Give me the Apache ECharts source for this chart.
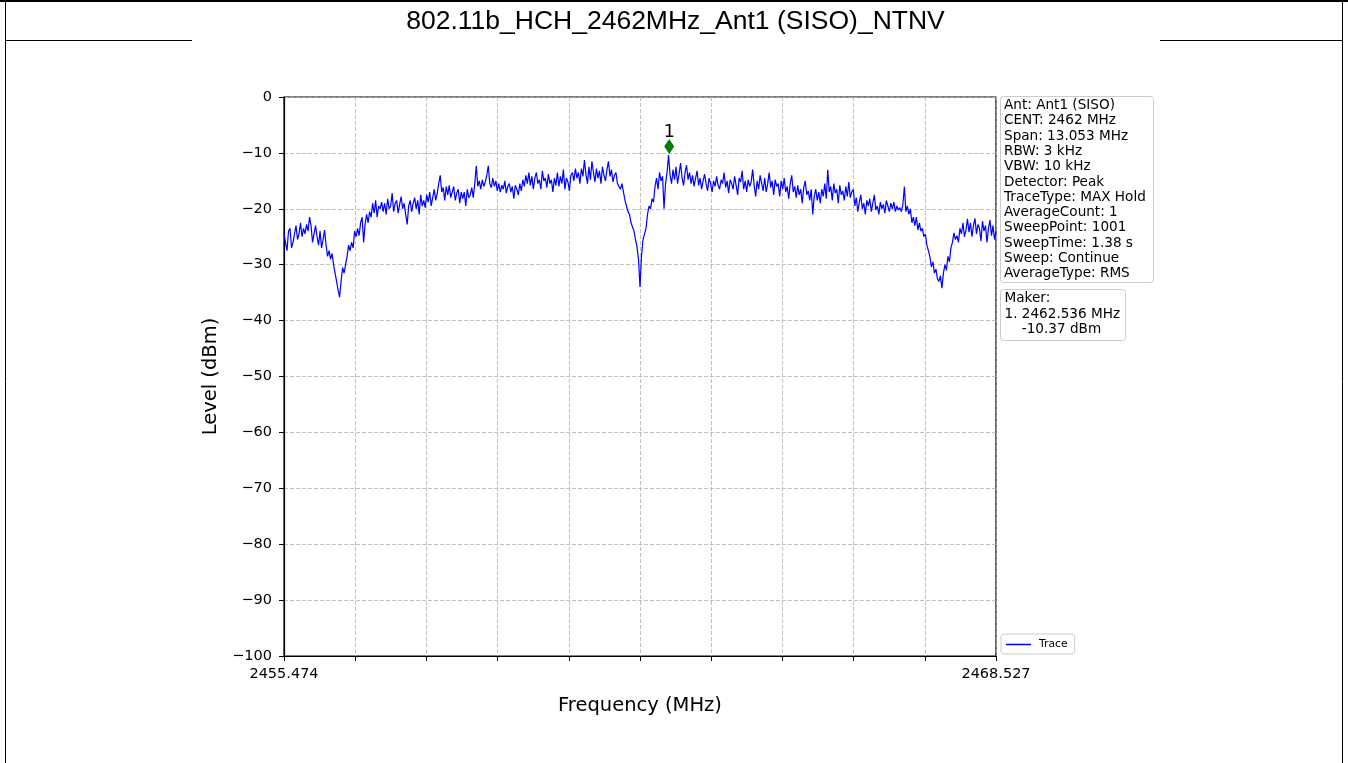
<!DOCTYPE html>
<html><head><meta charset="utf-8">
<script src="https://cdn.jsdelivr.net/npm/echarts@6/dist/echarts.min.js"></script>
<style>html,body{margin:0;padding:0;background:#fff}#c{width:1348px;height:763px}</style>
</head><body><div id="c"></div>
<script>
const titleText = '802.11b_HCH_2462MHz_Ant1 (SISO)_NTNV';
const startFreq = 2455.474;
const stopFreq = 2468.527;
const levels = [
-24.5,-26,-27.5,-24,-23.5,-27,-26,-24.5,-23,-25.5,
-24.5,-22.5,-25,-23.5,-24.5,-22.8,-24,-21.5,-23,-26,
-24.5,-23,-25,-26.5,-24,-27,-25.5,-23.8,-26.5,-28.5,
-27.5,-29,-28,-30,-31.5,-33,-34.5,-35.8,-33,-30.5,
-31.5,-30,-28.5,-26.5,-27.5,-26,-27,-24,-25,-23.5,
-24.8,-22.5,-21.5,-26,-22.7,-21,-22.5,-20.5,-21.5,-19,
-20.8,-18.5,-21.5,-19.5,-20,-18.8,-20.5,-19,-21,-18.2,
-20,-19.5,-17.2,-20.5,-19,-18.5,-20.8,-19.2,-17.8,-20,
-19,-21,-22.8,-19.5,-18.5,-20.5,-19,-18,-20,-18.5,
-21,-17.5,-19.5,-18.5,-19.8,-17.5,-18.8,-17,-19.5,-18,
-16.5,-18.5,-17.2,-15.5,-14,-17,-16.2,-18.5,-16,-17.5,
-15.8,-18,-17,-16,-18.5,-17.2,-16.5,-19,-17,-18.2,
-17,-19.5,-16.5,-18,-17.5,-16.2,-18,-15.5,-12.3,-16,
-15,-16.5,-14.8,-16,-15.2,-14,-12.3,-15.5,-16.2,-14.5,
-16,-15,-16.8,-15.5,-17,-15.8,-16.5,-15,-17.2,-16,
-15.5,-17,-16,-18.2,-15.8,-16.5,-17.5,-15.5,-16.8,-14.8,
-16,-14,-15.5,-13.5,-15.8,-14.2,-16.5,-14.5,-13.5,-15.5,
-14.8,-16.5,-13.2,-15,-14.5,-16.2,-13.8,-15.5,-14.8,-17,
-14.5,-15.8,-13.5,-16,-14.2,-15.5,-13,-16.5,-14.5,-15.2,
-16.8,-14,-13.5,-15,-12.8,-14.5,-13.5,-15.5,-12.8,-14.2,
-11.3,-13.8,-15.5,-12.5,-14.8,-11.5,-13.5,-15.2,-12.8,-14.5,
-13.2,-15.5,-12.5,-14,-15,-13,-11.5,-14.2,-13,-15.2,
-14,-13.5,-15.5,-15.8,-16.5,-15.5,-17,-18.5,-19.5,-20.5,
-21,-22.5,-22.8,-24,-25.5,-26.8,-29,-34,-28.5,-25.5,
-24.5,-23.5,-21,-19.5,-20,-18.2,-18.8,-16,-14.5,-16.5,
-13.5,-15,-14.2,-20,-15.5,-13.5,-10.37,-14,-15.5,-13,
-14.8,-12.5,-15.5,-13.8,-11.8,-14.5,-15.8,-13.5,-12.2,-14.8,
-13.5,-15.5,-14,-16,-14.5,-13.2,-15.8,-14.5,-16.5,-15,
-13.8,-15.5,-16.8,-14.5,-15.5,-17,-15,-16,-14.2,-15.8,
-16.5,-14.8,-15.5,-13.5,-16.2,-15,-17.2,-14.8,-15.5,-16.5,
-14.2,-15.8,-17.5,-14.5,-15.2,-13.2,-16.5,-15,-17,-14.8,
-16,-15.2,-13,-15.8,-17.8,-15,-16.5,-14,-15.5,-16.8,
-14.5,-17,-15.5,-13.5,-16.2,-15,-17.5,-14.8,-16,-15.5,
-17.8,-15,-16.5,-14.5,-17,-16,-18.2,-15.5,-14,-17,
-16,-18,-15.8,-17.5,-16.5,-19,-16.2,-15,-17.5,-16.8,
-18.5,-16.5,-21,-17.8,-16.5,-18.5,-17,-19,-16.5,-17.8,
-15.5,-18.2,-13,-17,-16,-18.5,-15.5,-17.2,-16.5,-19,
-15.8,-17.5,-16.8,-18.5,-16,-17.8,-15.2,-18,-17,-16.5,
-19.5,-18,-20.5,-18.8,-17.5,-20,-19,-21,-18.5,-19.5,
-18.2,-20.5,-19,-17.5,-20.2,-19.5,-21,-18.8,-20,-19.2,
-20.8,-18.5,-19.5,-20.5,-19,-20,-18.8,-20.5,-19.5,-20.2,
-19.8,-20.5,-19.2,-16,-20.5,-19.5,-21,-20,-22.5,-21.5,
-23,-21.5,-23.8,-22.5,-24,-23.5,-25,-24.5,-26.5,-27.5,
-28.6,-30.4,-29.5,-31.5,-30.8,-32.5,-33,-32,-34.2,-31.5,
-30,-31,-28.5,-29.5,-27,-26,-24.3,-25.5,-24.8,-26,
-23.5,-24.5,-22.5,-25,-23.8,-21.8,-24.2,-22.5,-25,-23,
-21.7,-24.5,-22.8,-23.5,-25.8,-22.2,-24,-23,-26,-23.5,
-22,-24.8,-23,-25.5,-24
];
const markerFreq = [2462.536];
const markerLevel = [-8.87];
const markerNames = ['1'];
const xTickLabels = ['2455.474','','','','','','','','','','2468.527'];
const yMin = -100, yMax = 0, yStep = 10;
const infoLines = ['Ant: Ant1 (SISO)','CENT: 2462 MHz','Span: 13.053 MHz','RBW: 3 kHz','VBW: 10 kHz','Detector: Peak','TraceType: MAX Hold','AverageCount: 1','SweepPoint: 1001','SweepTime: 1.38 s','Sweep: Continue','AverageType: RMS'];
const makerLines = ['Maker:','1. 2462.536 MHz','    -10.37 dBm'];

const FONT = 'DejaVu Sans';
const n = levels.length;
const traceData = levels.map((v, i) => [startFreq + i * (stopFreq - startFreq) / (n - 1), v]);
const markerData = markerFreq.map((f, i) => ({value: [f, markerLevel[i]], name: markerNames[i]}));

const graphic = [];
graphic.push({type:'line', shape:{x1:0,y1:1,x2:1348,y2:1}, style:{stroke:'#000',lineWidth:2}});
graphic.push({type:'line', shape:{x1:5.5,y1:0,x2:5.5,y2:763}, style:{stroke:'#000',lineWidth:1}});
graphic.push({type:'line', shape:{x1:1342.5,y1:0,x2:1342.5,y2:763}, style:{stroke:'#000',lineWidth:1}});
graphic.push({type:'line', shape:{x1:5,y1:40.5,x2:192,y2:40.5}, style:{stroke:'#000',lineWidth:1}});
graphic.push({type:'line', shape:{x1:1160,y1:40.5,x2:1343,y2:40.5}, style:{stroke:'#000',lineWidth:1}});
graphic.push({type:'text', x:675.5, y:22, style:{text:titleText, font:'26.5px "Liberation Sans"', fill:'#000', textAlign:'center', textVerticalAlign:'middle'}});
graphic.push({type:'rect', shape:{x:1000.5,y:96.5,width:153,height:186,r:3}, style:{fill:'#fff',stroke:'#cccccc',lineWidth:1}, z:10});
infoLines.forEach((t, i) => graphic.push({type:'text', x:1004, y:105.5 + 15.3 * i, z:11, style:{text:t, font:'13.6px "DejaVu Sans"', fill:'#000', textVerticalAlign:'middle'}}));
graphic.push({type:'rect', shape:{x:1000.5,y:289.5,width:125,height:51,r:3}, style:{fill:'#fff',stroke:'#cccccc',lineWidth:1}, z:10});
makerLines.forEach((t, i) => graphic.push({type:'text', x:1004.5, y:298.8 + 15.2 * i, z:11, style:{text:t, font:'13.6px "DejaVu Sans"', fill:'#000', textVerticalAlign:'middle'}}));

const chart = echarts.init(document.getElementById('c'));
chart.setOption({
  animation: false,
  backgroundColor: '#fff',
  graphic: graphic,
  grid: {left: 284, right: 352, top: 97, bottom: 107, show: true, borderColor: '#000', borderWidth: 1.2, containLabel: false},
  legend: {
    data: ['Trace'], left: 1001, top: 634, orient: 'vertical',
    icon: 'rect', itemWidth: 25, itemHeight: 1.5,
    padding: [5, 7, 4, 5], borderColor: '#cccccc', borderWidth: 1, borderRadius: 3, backgroundColor: '#fff',
    textStyle: {fontFamily: FONT, fontSize: 10.8, color: '#000', padding: [0, 0, 0, 3]}
  },
  xAxis: [
    {type: 'value', min: startFreq, max: stopFreq, show: false},
    {type: 'value', min: 0, max: 10, interval: 1, position: 'bottom',
     axisLine: {show: true, lineStyle: {color: '#000', width: 1.2}},
     axisTick: {show: true, length: 5, lineStyle: {color: '#000'}},
     axisLabel: {show: true, margin: 11, fontFamily: FONT, fontSize: 14.5, color: '#000',
       formatter: v => xTickLabels[Math.round(v)] || ''},
     splitLine: {show: true, lineStyle: {color: '#b0b0b0', type: [4, 2], width: 0.8}},
     name: 'Frequency (MHz)', nameLocation: 'middle', nameGap: 40,
     nameTextStyle: {fontFamily: FONT, fontSize: 19.5, color: '#000'}}
  ],
  yAxis: {
    type: 'value', min: yMin, max: yMax, interval: yStep,
    axisLine: {show: true, lineStyle: {color: '#000', width: 1.2}},
    axisTick: {show: true, length: 5, lineStyle: {color: '#000'}},
    axisLabel: {margin: 12, fontFamily: FONT, fontSize: 14.5, color: '#000',
      formatter: v => v < 0 ? '\u2212' + (-v) : String(v)},
    splitLine: {show: true, lineStyle: {color: '#b0b0b0', type: [4, 2], width: 0.8}},
    name: 'Level (dBm)', nameLocation: 'middle', nameGap: 57, nameRotate: 90,
    nameTextStyle: {fontFamily: FONT, fontSize: 19.5, color: '#000'}
  },
  series: [
    {name: 'Trace', type: 'line', xAxisIndex: 0, data: traceData, symbol: 'none', color: '#0000ff',
     lineStyle: {color: '#0000ff', width: 1.2}, z: 3},
    {name: 'Marker', type: 'scatter', xAxisIndex: 0, data: markerData, symbol: 'diamond', symbolSize: [10, 15],
     itemStyle: {color: '#008000', opacity: 1}, z: 4,
     label: {show: true, position: 'top', distance: -2, formatter: p => p.name, fontFamily: FONT, fontSize: 17.5, color: '#000'}}
  ]
});
</script>
</body></html>
